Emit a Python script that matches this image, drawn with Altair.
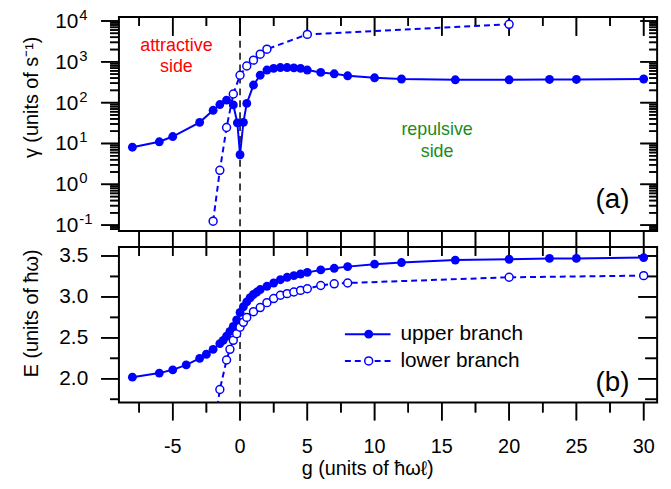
import altair as alt
import pandas as pd

BLUE = "#0000ff"
FONT = "Liberation Sans"

# ---------------- panel (a): decay rate gamma ----------------
g_upper_a = [-8, -6, -5, -3, -2, -1.5, -1, -0.5, -0.2, 0, 0.25, 0.5, 1, 1.5, 2, 2.5, 3, 3.5,
             4, 4.5, 5, 6, 7, 8, 10, 12, 16, 20, 23, 25, 30]
gamma_upper = [8.1, 11, 14.8, 33, 65, 90, 115, 88, 32, 5.3, 33, 96, 270, 470, 630, 690, 725, 725,
               710, 690, 630, 550, 510, 455, 407, 380, 363, 363, 370, 370, 380]
g_lower_a = [-2, -1.5, -1, -0.5, 0, 0.5, 1, 1.5, 2, 5, 20]
gamma_lower = [0.125, 2.2, 24.6, 163, 470, 790, 1100, 1540, 2040, 4700, 8300]

# ---------------- panel (b): energy ----------------
g_upper_b = [-8, -6, -5, -4, -3, -2.5, -2, -1.5, -1.25, -1, -0.75, -0.5, -0.25, 0, 0.25, 0.5,
             0.75, 1, 1.25, 1.5, 2, 2.5, 3, 3.5, 4, 4.5, 5, 6, 7, 8, 10, 12, 16, 20, 23, 25, 30]
E_upper = [2.02, 2.07, 2.11, 2.17, 2.25, 2.30, 2.36, 2.43, 2.47, 2.52, 2.58, 2.64, 2.72, 2.81,
           2.88, 2.94, 2.99, 3.03, 3.06, 3.09, 3.13, 3.17, 3.21, 3.24, 3.26, 3.28, 3.30, 3.33,
           3.35, 3.37, 3.40, 3.42, 3.45, 3.46, 3.47, 3.47, 3.48]
g_lower_b = [-2, -1.5, -1, -0.75, -0.5, -0.25, 0, 0.25, 0.5, 1, 1.5, 2, 2.5, 3, 3.5, 4, 4.5, 5,
             6, 7, 8, 20, 30]
E_lower = [1.30, 1.87, 2.23, 2.36, 2.47, 2.55, 2.63, 2.69, 2.75, 2.82, 2.87, 2.93, 2.98, 3.02,
           3.04, 3.06, 3.08, 3.10, 3.14, 3.16, 3.17, 3.24, 3.26]

# ---------------- ticks and texts ----------------
x_major = [-5, 0, 5, 10, 15, 20, 25, 30]
x_minor = [-7.5, -2.5, 2.5, 7.5, 12.5, 17.5, 22.5, 27.5]
x_all = sorted(x_major + x_minor)
gam_major = [0.1, 1, 10, 100, 1000, 10000]
gam_minor = [0.08, 0.09] + [round(m * d, 3) for d in [0.1, 1, 10, 100, 1000] for m in range(2, 10)]
E_major = [2.0, 2.5, 3.0, 3.5]
E_minor = [1.75, 2.25, 2.75, 3.25]

title_gamma = "γ (units of s⁻¹)"
title_E = "E (units of ħω)"
title_g = "g (units of ħωℓ)"
attractive_text = ["attractive", "side"]
repulsive_text = ["repulsive", "side"]
panel_labels = ["(a)", "(b)"]
legend_labels = ["upper branch", "lower branch"]

W, HA, HB = 543, 216, 157

xs = alt.Scale(domain=[-9, 31], nice=False, zero=False)
ys_a = alt.Scale(type="log", domain=[0.0714, 12520], nice=False)
ys_b = alt.Scale(domain=[1.71, 3.61], nice=False, zero=False)

one = pd.DataFrame({"k": [0]})


def X(field="g"):
    return alt.X(f"{field}:Q", scale=xs, axis=None)


def Y(scale, field="v"):
    return alt.Y(f"{field}:Q", scale=scale, axis=None)


def yticks(values, scale, x1, x2):
    df = pd.DataFrame({"tv": values})
    rule = alt.Chart(df).mark_rule(stroke="black", strokeWidth=1.6, opacity=1).encode(
        y=Y(scale, "tv"), x=alt.value(x1), x2=alt.value(x2))
    sym = alt.Chart(df).mark_point(shape="M-1,0L1,0", size=(x2 - x1) ** 2, filled=False,
                                   color="black", strokeWidth=1.6, opacity=1).encode(
        y=Y(scale, "tv"), x=alt.value((x1 + x2) / 2))
    return [rule, sym]


def xticks(values, y1, y2):
    df = pd.DataFrame({"tv": values})
    rule = alt.Chart(df).mark_rule(stroke="black", strokeWidth=1.6, opacity=1).encode(
        x=X("tv"), y=alt.value(y1), y2=alt.value(y2))
    sym = alt.Chart(df).mark_point(shape="M0,-1L0,1", size=(y2 - y1) ** 2, filled=False,
                                   color="black", strokeWidth=1.6, opacity=1).encode(
        x=X("tv"), y=alt.value((y1 + y2) / 2))
    return [rule, sym]


def label(text, x, y, size, color="black", align="center", baseline="alphabetic",
          angle=0, line_height=None):
    props = dict(font=FONT, fontSize=size, color=color, align=align, baseline=baseline)
    if angle:
        props["angle"] = angle
    if line_height:
        props["lineHeight"] = line_height
    return alt.Chart(one).mark_text(**props).encode(
        x=alt.value(x), y=alt.value(y), text=alt.value(text))


da_up = pd.DataFrame({"g": g_upper_a, "v": gamma_upper})
da_lo = pd.DataFrame({"g": g_lower_a, "v": gamma_lower})
db_up = pd.DataFrame({"g": g_upper_b, "v": E_upper})
db_lo = pd.DataFrame({"g": g_lower_b, "v": E_lower})

# ---------------- top panel ----------------
a_ticks = (yticks(gam_major, ys_a, -18, 0) + yticks(gam_minor, ys_a, -9, 0)
           + yticks(gam_major, ys_a, W - 17, W) + yticks(gam_minor, ys_a, W - 8, W)
           + xticks(x_major, 0, 19) + xticks(x_minor, 0, 9) + xticks(x_all, HA, HA + 16))

a_line_up = alt.Chart(da_up).mark_line(color=BLUE, strokeWidth=2).encode(x=X(), y=Y(ys_a))
a_line_lo = alt.Chart(da_lo).mark_line(color=BLUE, strokeWidth=2, strokeDash=[6, 4]).encode(
    x=X(), y=Y(ys_a))
a_pts_up = alt.Chart(da_up).mark_point(shape="circle", filled=True, size=80, color=BLUE,
                                        opacity=1).encode(x=X(), y=Y(ys_a))
a_pts_lo = alt.Chart(da_lo).mark_point(shape="circle", filled=True, fill="white", stroke=BLUE,
                                        strokeWidth=1.5, size=64, opacity=1).encode(
    x=X(), y=Y(ys_a))
a_ten = alt.Chart(pd.DataFrame({"lv": gam_major})).mark_text(
    font=FONT, fontSize=21, color="black", align="right", baseline="middle", dy=1).encode(
    y=Y(ys_a, "lv"), x=alt.value(-41), text=alt.value("10"))
a_exp = alt.Chart(pd.DataFrame({"lv": gam_major})).transform_calculate(
    ex="datum.lv < 0.5 ? '-1' : '' + round(log(datum.lv) / LN10)"
).mark_text(font=FONT, fontSize=15, color="black", align="left", baseline="middle",
            dy=-6).encode(y=Y(ys_a, "lv"), x=alt.value(-40), text="ex:N")
a_zero = alt.Chart(one).mark_rule(color="black", strokeWidth=1.5, strokeDash=[7, 5]).encode(
    x=alt.X(datum=0, scale=xs, axis=None))

top = alt.layer(
    *a_ticks,
    a_zero, a_line_up, a_line_lo, a_pts_up, a_pts_lo, a_ten, a_exp,
    label(title_gamma, -88, 81, 20, baseline="middle", angle=270),
    label(attractive_text, 58, 34, 18, color="#ff0000", line_height=21),
    label(repulsive_text, 321, 119, 18, color="#1a8c1a", line_height=22),
    label(panel_labels[0], 498, 193, 28),
).properties(width=W, height=HA)

# ---------------- bottom panel ----------------
b_ticks = (yticks(E_major, ys_b, -18, 0) + yticks(E_minor, ys_b, -9, 0)
           + yticks(E_major, ys_b, W - 19, W) + yticks(E_minor, ys_b, W - 12, W)
           + xticks(x_all, 0, 9) + xticks(x_major, HB, HB + 18) + xticks(x_minor, HB, HB + 10))

b_line_up = alt.Chart(db_up).mark_line(color=BLUE, strokeWidth=2).encode(x=X(), y=Y(ys_b))
b_line_lo = alt.Chart(db_lo).mark_line(color=BLUE, strokeWidth=2, strokeDash=[6, 4],
                                       clip=True).encode(x=X(), y=Y(ys_b))
b_pts_up = alt.Chart(db_up).mark_point(shape="circle", filled=True, size=80, color=BLUE,
                                        opacity=1).encode(x=X(), y=Y(ys_b))
b_pts_lo = alt.Chart(db_lo).mark_point(shape="circle", filled=True, fill="white", stroke=BLUE,
                                        strokeWidth=1.5, size=64, opacity=1, clip=True).encode(
    x=X(), y=Y(ys_b))
b_zero = alt.Chart(one).mark_rule(color="black", strokeWidth=1.5, strokeDash=[7, 5]).encode(
    x=alt.X(datum=0, scale=xs, axis=None))
b_ylab = alt.Chart(pd.DataFrame({"lv": E_major})).mark_text(
    font=FONT, fontSize=21, color="black", align="right", baseline="middle").encode(
    y=Y(ys_b, "lv"), x=alt.value(-31), text=alt.Text("lv:Q", format=".1f"))
b_xlab = alt.Chart(pd.DataFrame({"lg": x_major})).transform_calculate(
    lab="datum.lg < 0 ? '-' + abs(datum.lg) : '' + datum.lg"
).mark_text(font=FONT, fontSize=20, color="black", align="center", baseline="top").encode(
    x=X("lg"), y=alt.value(HB + 35), text="lab:N")

leg_up_line = alt.Chart(one).mark_rule(color=BLUE, strokeWidth=2).encode(
    x=alt.value(228), x2=alt.value(274), y=alt.value(88))
leg_up_pt = alt.Chart(one).mark_point(shape="circle", filled=True, size=80, color=BLUE,
                                       opacity=1).encode(x=alt.value(252), y=alt.value(88))
leg_lo_line = alt.Chart(one).mark_rule(color=BLUE, strokeWidth=2, strokeDash=[6, 4]).encode(
    x=alt.value(228), x2=alt.value(274), y=alt.value(115))
leg_lo_pt = alt.Chart(one).mark_point(shape="circle", filled=True, fill="white", stroke=BLUE,
                                       strokeWidth=1.5, size=64, opacity=1).encode(
    x=alt.value(252), y=alt.value(115))

bottom = alt.layer(
    *b_ticks,
    b_zero, b_line_up, b_line_lo, b_pts_up, b_pts_lo, b_ylab, b_xlab,
    label(title_E, -88, 67, 20, baseline="middle", angle=270),
    label(title_g, 251, HB + 73, 20),
    leg_up_line, leg_up_pt, label(legend_labels[0], 284, 88, 21, align="left", baseline="middle"),
    leg_lo_line, leg_lo_pt, label(legend_labels[1], 284, 115, 21, align="left", baseline="middle"),
    label(panel_labels[1], 498, 145, 28),
).properties(width=W, height=HB)

chart = alt.vconcat(top, bottom, spacing=16, bounds="flush").properties(
    padding={"left": 21, "right": 9, "top": 5, "bottom": 5},
    background="white",
).configure(font=FONT).configure_view(stroke="black", strokeWidth=2)

chart.save("out.html", embed_options={"renderer": "svg", "actions": False})
